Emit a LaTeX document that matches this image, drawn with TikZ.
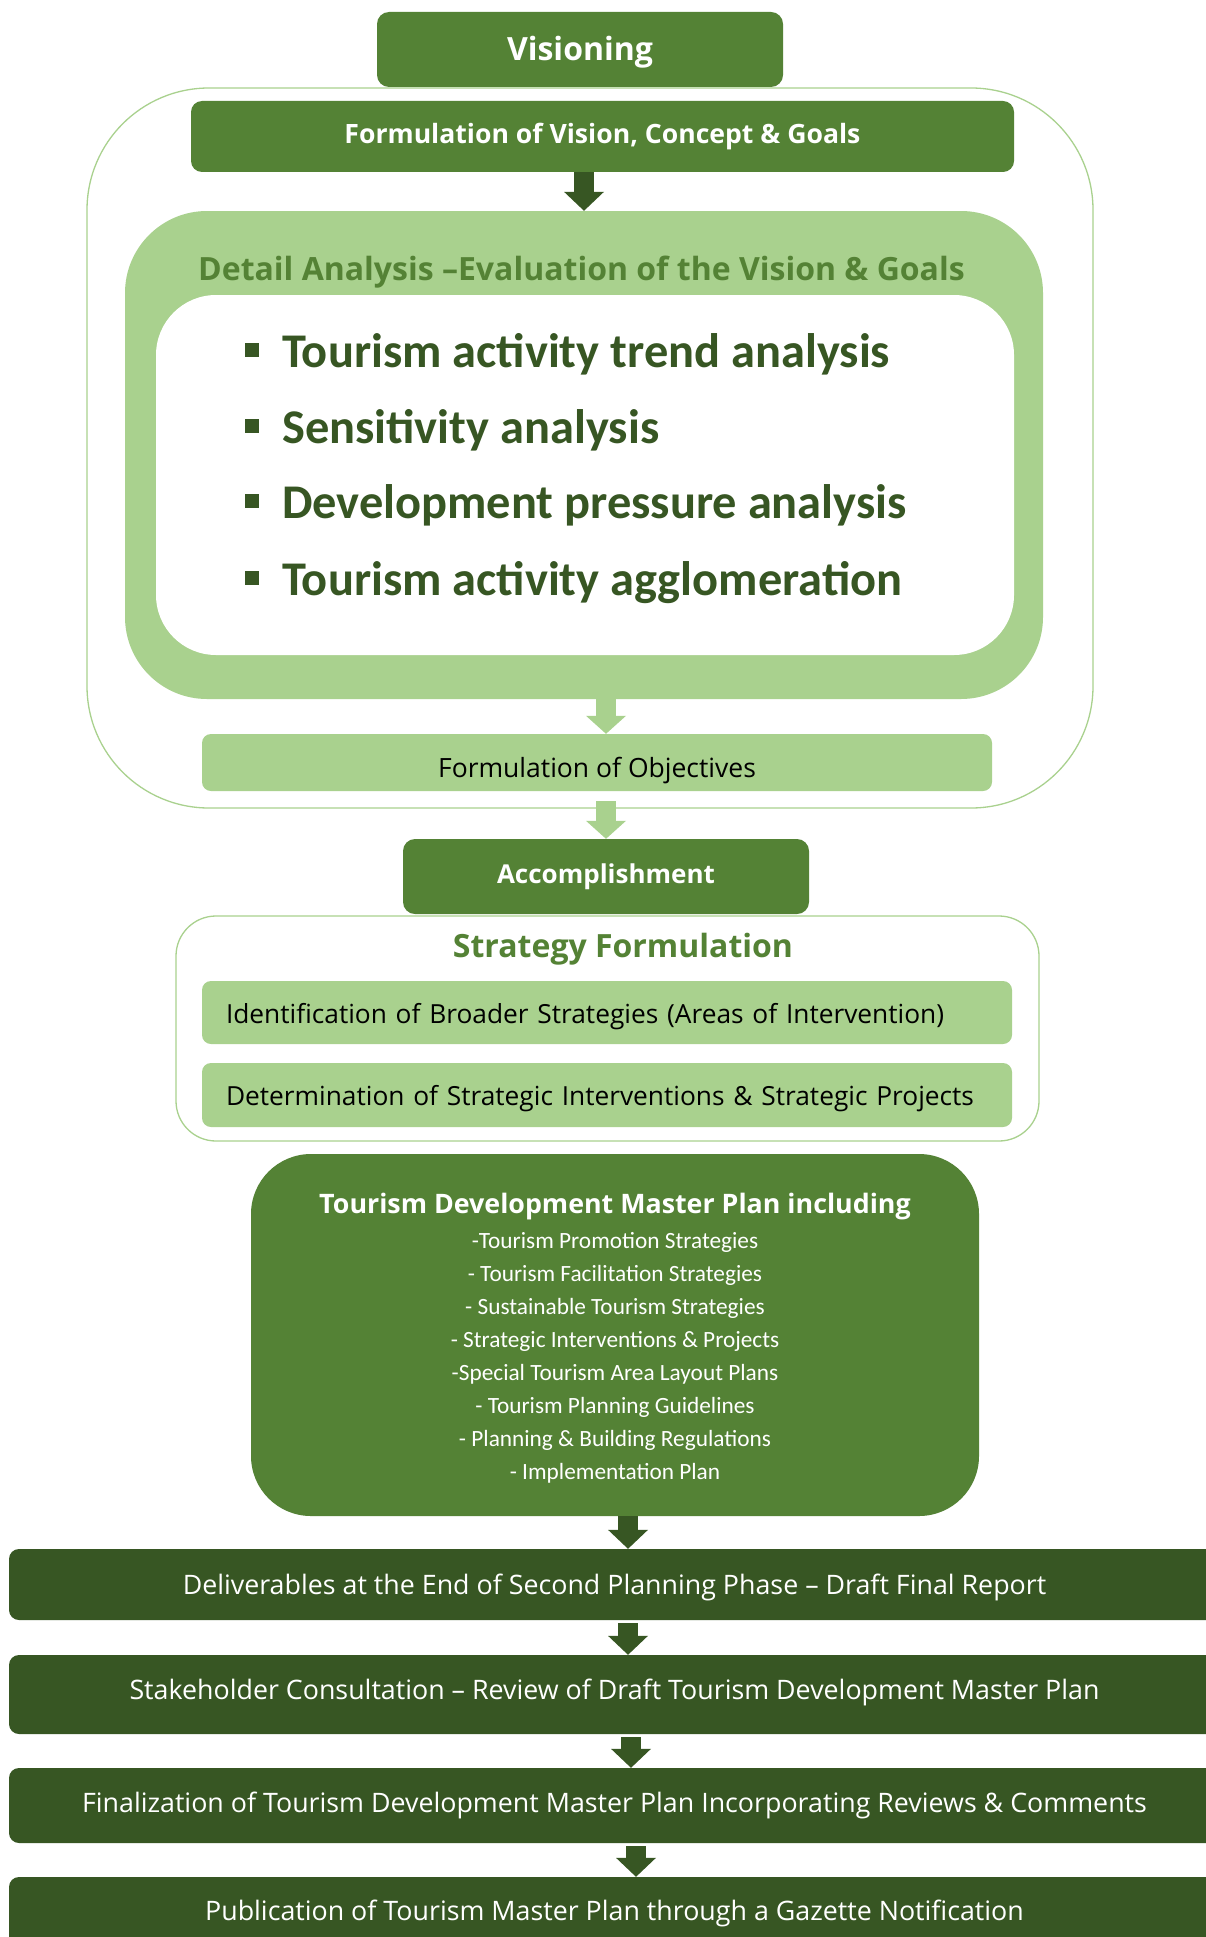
\documentclass[tikz,border=0pt]{standalone}
\usepackage{fontspec}
\setmainfont{Open Sans}
\newfontfamily\calibri{Carlito}
\usetikzlibrary{arrows.meta}

\definecolor{leafgreen}{HTML}{548235}
\definecolor{mossgreen}{HTML}{375623}
\definecolor{palegreen}{HTML}{A9D18E}

\newcommand{\sqbullet}{\raisebox{10pt}{\rule{14pt}{14pt}}\hspace{23pt}}

\begin{document}
\begin{tikzpicture}[x=1pt, y=-1pt,
    phasebox/.style={fill=leafgreen, rounded corners=12pt, inner sep=0pt, text=white,
      minimum width=406pt, minimum height=75pt, font=\bfseries\fontsize{32}{38}\selectfont},
    goalbar/.style={fill=leafgreen, rounded corners=11pt, inner sep=0pt, text=white,
      font=\bfseries\fontsize{26.6}{30}\selectfont},
    softbar/.style={fill=palegreen, rounded corners=9pt, inner sep=0pt,
      font=\fontsize{26.5}{30}\selectfont},
    groupframe/.style={draw=palegreen, line width=1.3pt, fill=white, inner sep=0pt},
    grouptitle/.style={text=leafgreen, anchor=base, inner sep=0pt,
      font=\bfseries\fontsize{32}{36}\selectfont},
    bulletline/.style={text=mossgreen, anchor=base west, inner sep=0pt,
      font=\calibri\bfseries\fontsize{48.4}{52}\selectfont},
    stepbar/.style={fill=mossgreen, rounded corners=10pt, inner sep=0pt, text=white,
      minimum width=1211pt, text depth=0pt, font=\fontsize{26.8}{30}\selectfont},
    darkarrow/.style={mossgreen, line width=20pt, -{Triangle[length=19pt, width=40pt, line width=0pt]}},
    lightarrow/.style={palegreen, line width=20pt, -{Triangle[length=18pt, width=40pt, line width=0pt]}},
  ]
  \path[fill=white, use as bounding box] (0,0) rectangle (1206,1937);

  \node[groupframe, rounded corners=122pt, minimum width=1006pt, minimum height=720pt] (visionframe) at (590,448) {};
  \node[phasebox, text height=23pt, text depth=0pt] (vision) at (580,49.5) {Visioning};
  \node[goalbar, minimum width=823pt, minimum height=71pt] (goals) at (602.5,136.5) {Formulation of Vision, Concept \& Goals};

  \node[fill=palegreen, rounded corners=82pt, minimum width=918pt, minimum height=488pt] (analysis) at (584,455) {};
  \node[fill=white, rounded corners=60pt, minimum width=858pt, minimum height=360pt] (analysisbody) at (585,475) {};
  \node[grouptitle] (analysistitle) at (581.5,280) {Detail Analysis –Evaluation of the Vision \& Goals};
  \node[bulletline] (trend) at (245,367) {\sqbullet Tourism activity trend analysis};
  \node[bulletline] (sensitivity) at (245,443) {\sqbullet Sensitivity analysis};
  \node[bulletline] (pressure) at (245,518) {\sqbullet Development pressure analysis};
  \node[bulletline] (agglomeration) at (245,595) {\sqbullet Tourism activity agglomeration};

  \node[softbar, minimum width=790pt, minimum height=57pt, text height=29pt, text depth=0pt] (objectives) at (597,762.5) {Formulation of Objectives};
  \node[phasebox, font=\bfseries\fontsize{26}{30}\selectfont] (accomplish) at (606,876.5) {Accomplishment};

  \node[groupframe, rounded corners=40pt, minimum width=863pt, minimum height=225pt] (strategyframe) at (607.5,1028.5) {};
  \node[grouptitle] (strategytitle) at (623,957) {Strategy Formulation};
  \node[softbar, minimum width=810pt, minimum height=63pt, text width=762pt, align=left,
    text height=21pt, text depth=0pt, font=\fontsize{26.3}{30}\selectfont] (broad) at (607,1012.5) {Identification of Broader Strategies (Areas of Intervention)};
  \node[softbar, minimum width=810pt, minimum height=64pt, text width=762pt, align=left,
    text height=20pt, text depth=0pt, font=\fontsize{26.3}{30}\selectfont] (projects) at (607,1095) {Determination of Strategic Interventions \& Strategic Projects};

  \node[fill=leafgreen, rounded corners=60pt, minimum width=728pt, minimum height=362pt, inner sep=0pt,
    text=white, align=center, font=\calibri\fontsize{23.3}{33}\selectfont] (masterplan) at (615,1335)
    {{\rmfamily\bfseries\fontsize{26.8}{33}\selectfont\rule{0pt}{26.5pt}Tourism Development Master Plan including}\\[2pt]
     -Tourism Promotion Strategies\\
     - Tourism Facilitation Strategies\\
     - Sustainable Tourism Strategies\\
     - Strategic Interventions \& Projects\\
     -Special Tourism Area Layout Plans\\
     - Tourism Planning Guidelines\\
     - Planning \& Building Regulations\\
     - Implementation Plan};

  \node[stepbar, minimum height=71pt, text height=19pt] (deliverables) at (614.5,1584.5) {Deliverables at the End of Second Planning Phase – Draft Final Report};
  \node[stepbar, minimum height=79pt, text height=9pt] (consultation) at (614.5,1694.5) {Stakeholder Consultation – Review of Draft Tourism Development Master Plan};
  \node[stepbar, minimum height=75pt, text height=14pt] (finalization) at (614.5,1805.5) {Finalization of Tourism Development Master Plan Incorporating Reviews \& Comments};
  \node[stepbar, minimum height=80pt, text height=6.6pt] (gazette) at (614.5,1917) {Publication of Tourism Master Plan through a Gazette Notification};

  \coordinate (spine) at (628,0);

  \draw[darkarrow] (goals.south -| analysis.north) -- (analysis.north);
  \draw[lightarrow] (analysis.south -| accomplish.north) -- (objectives.north -| accomplish.north);
  \draw[lightarrow, shorten <=10pt] (objectives.south -| accomplish.north) -- (accomplish.north);
  \draw[darkarrow] (masterplan.south -| spine) -- (deliverables.north -| spine);
  \draw[darkarrow, shorten <=3pt] (deliverables.south -| spine) -- (consultation.north -| spine);
  \draw[darkarrow, shorten <=3pt] ([xshift=3pt]consultation.south -| spine) -- ([xshift=3pt]finalization.north -| spine);
  \draw[darkarrow, shorten <=3pt] ([xshift=8pt]finalization.south -| spine) -- ([xshift=8pt]gazette.north -| spine);
\end{tikzpicture}
\end{document}
